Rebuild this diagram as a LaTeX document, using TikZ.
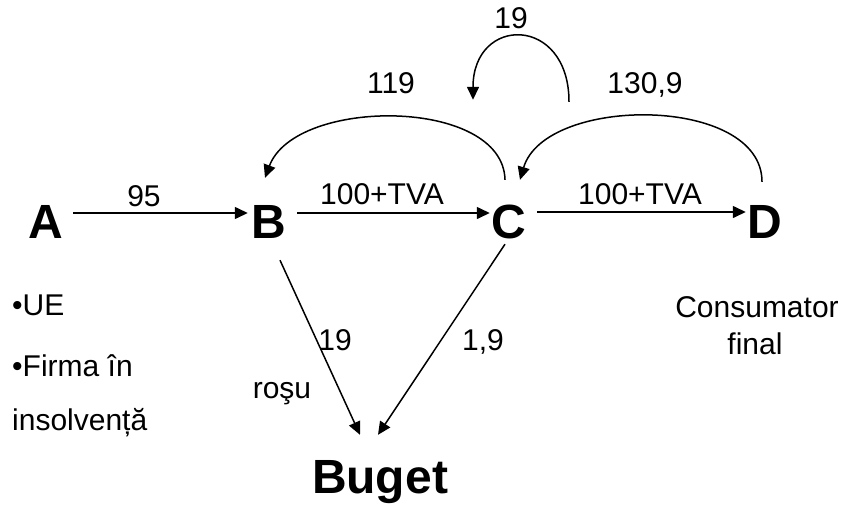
\documentclass[tikz,border=0pt]{standalone}
\usepackage{fontspec}
\setmainfont{Liberation Sans}
\usetikzlibrary{arrows.meta}
\begin{document}
\begin{tikzpicture}[x=1pt,y=-1pt,
  big/.style={font=\fontsize{48}{56}\selectfont\bfseries, inner sep=0pt, text height=34pt, text depth=0pt, anchor=base},
  lbl/.style={font=\fontsize{30}{37}\selectfont, inner sep=0pt, anchor=base},
  arr/.style={line width=1.5pt, -{Triangle[length=13pt,width=12pt]}}]
\useasboundingbox (0,0) rectangle (845,506);
% main nodes
\node[big] (A) at (46,238) {A};
\node[big] (B) at (269,238) {B};
\node[big] (C) at (509,238) {C};
\node[big] (D) at (765,238) {D};
\node[big] (Bu) at (380,493) {Buget};
% straight connectors
\draw[arr] ([shift={(9.7pt,8pt)}]A.east) -- ([shift={(-3.7pt,8pt)}]B.west);
\draw[arr] ([shift={(10.7pt,8pt)}]B.east) -- ([shift={(-1.7pt,8pt)}]C.west);
\draw[arr] ([shift={(10.7pt,9pt)}]C.east) -- ([shift={(-1.7pt,9pt)}]D.west);
\draw[arr] ([shift={(11pt,-22pt)}]B.south) -- ([shift={(-20pt,24pt)}]Bu.north);
\draw[arr] ([shift={(-4pt,-6pt)}]C.south) -- ([shift={(-2pt,24pt)}]Bu.north);
% curved connectors
\draw[arr] ([shift={(-4pt,24pt)}]C.north) .. controls (503,97) and (295,97) .. ([shift={(-4pt,26pt)}]B.north);
\draw[arr] ([shift={(-3pt,22pt)}]D.north) .. controls (762,95) and (545,95) .. ([shift={(11pt,24pt)}]C.north);
\draw[arr] ([shift={(60pt,102pt)}]C.north) .. controls (569,15) and (473,15) .. ([shift={(-36pt,104pt)}]C.north);
% labels
\node[lbl] (l95) at (144,206) {95};
\node[lbl] (lbc) at (382,204) {100+TVA};
\node[lbl] (lcd) at (640,204) {100+TVA};
\node[lbl] (l119) at (391,93) {119};
\node[lbl] (l1309) at (645,93) {130,9};
\node[lbl] (l19t) at (511,28) {19};
\node[lbl] (l19) at (335,350) {19};
\node[lbl] (l19c) at (483,350) {1,9};
\node[lbl] (lrosu) at (282,398) {roşu};
\node[lbl, anchor=base west] (lue) at (12,315) {•UE};
\node[lbl, anchor=base west] (lfirma) at (12,376) {•Firma în};
\node[lbl, anchor=base west] (lins) at (12,430) {insolvență};
\node[lbl] (lcons) at (757,317) {Consumator};
\node[lbl] (lfinal) at (755,354) {final};
\end{tikzpicture}
\end{document}
